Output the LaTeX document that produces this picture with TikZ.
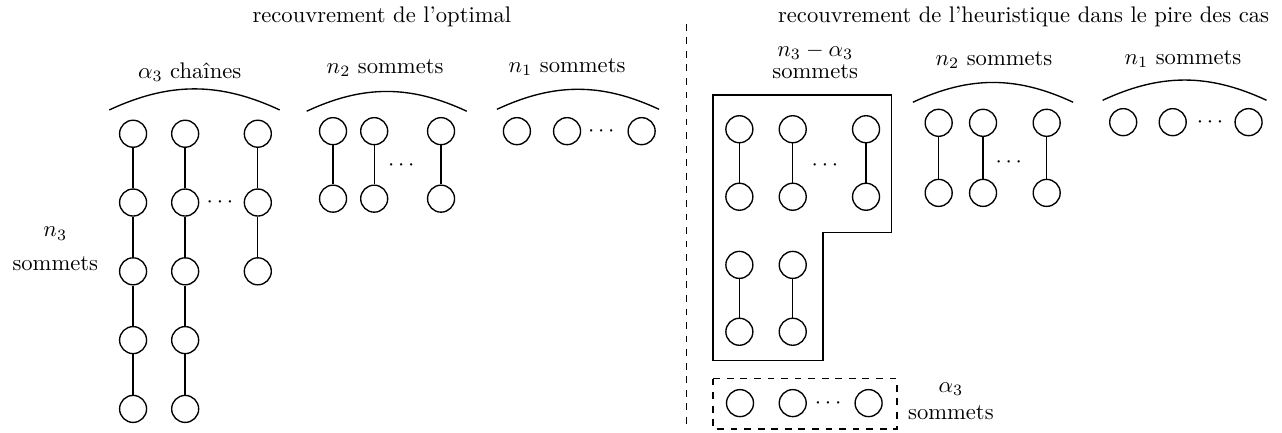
\documentclass[tikz,border=0pt]{standalone}
\usepackage{amsmath}
\usepackage{amssymb}
\usepackage{tikz}
\usepackage{xcolor}

\begin{document}
\begin{tikzpicture}[sommet/.style={circle, draw, semithick, minimum size=0.42cm, inner sep=0pt},
                    trait/.style={semithick}]
                \useasboundingbox (0,0) rectangle (19.94,-6.72);
                % Titles and separation
                \node (titreopt) at (5.94,-0.26) {recouvrement de l'optimal};
                \node (titreheur) at (15.92,-0.26) {recouvrement de l'heuristique dans le pire des cas};
                \coordinate (sephaut) at (10.68,-0.37);
                \coordinate (sepbas) at (10.68,-6.61);
                \draw[trait, dashed] (sephaut) -- (sepbas);

                % Optimal: alpha_3 chains
                \node[align=center] (n3lab) at (0.86,-3.87) {$n_3$\\[3pt] sommets};
                \node (chlab) at (2.95,-1.12) {$\alpha_3$ chaînes};
                \coordinate (chg) at (1.70,-1.71);
                \coordinate (chd) at (4.35,-1.71);
                \draw[trait] (chg) to[bend left=25] (chd);
                \foreach \c/\x/\k in {1/2.07/5, 2/2.88/5, 3/4.01/3} {
                    \foreach \r in {1,...,\k}
                        \node[sommet] (ch\c-\r) at (\x,-1.01-1.07*\r) {};
                    \foreach \r [evaluate=\r as \p using int(\r-1)] in {2,...,\k}
                        \draw[trait] (ch\c-\p) -- (ch\c-\r);
                }
                \node (chpts) at (3.45,-3.15) {$\cdots$};

                % Optimal: n_2 vertices
                \node (palab) at (5.99,-1.06) {$n_2$ sommets};
                \coordinate (pag) at (4.77,-1.73);
                \coordinate (pad) at (7.26,-1.73);
                \draw[trait] (pag) to[bend left=25] (pad);
                \foreach \c/\x in {1/5.18, 2/5.82, 3/6.86} {
                    \node[sommet] (pa\c-1) at (\x,-2.04) {};
                    \node[sommet] (pa\c-2) at (\x,-3.09) {};
                    \draw[trait] (pa\c-1) -- (pa\c-2);
                }
                \node (papts) at (6.27,-2.57) {$\cdots$};

                % Optimal: n_1 vertices
                \node (islab) at (8.82,-1.04) {$n_1$ sommets};
                \coordinate (isg) at (7.73,-1.70);
                \coordinate (isd) at (10.25,-1.70);
                \draw[trait] (isg) to[bend left=25] (isd);
                \node[sommet] (is1) at (8.04,-2.04) {};
                \node[sommet] (is2) at (8.82,-2.04) {};
                \node[sommet] (is3) at (9.98,-2.04) {};
                \node (ispts) at (9.38,-2.04) {$\cdots$};

                % Heuristic: n_3 - alpha_3 vertices
                \node[align=center] (hblab) at (12.68,-0.95) {$n_3-\alpha_3$\\[-2pt] sommets};
                \draw[trait] (11.09,-1.48) -- (13.87,-1.48) -- (13.87,-3.62) -- (12.80,-3.62)
                    -- (12.80,-5.61) -- (11.09,-5.61) -- cycle;
                \foreach \c/\x in {1/11.50, 2/12.33, 3/13.47} {
                    \node[sommet] (hb\c-1) at (\x,-2.01) {};
                    \node[sommet] (hb\c-2) at (\x,-3.06) {};
                    \draw[trait] (hb\c-1) -- (hb\c-2);
                }
                \node (hbpts) at (12.86,-2.57) {$\cdots$};
                \foreach \c/\x in {4/11.50, 5/12.33} {
                    \node[sommet] (hb\c-1) at (\x,-4.12) {};
                    \node[sommet] (hb\c-2) at (\x,-5.16) {};
                    \draw[trait] (hb\c-1) -- (hb\c-2);
                }

                % Heuristic: alpha_3 vertices
                \draw[trait, dashed] (11.09,-5.89) rectangle (13.95,-6.67);
                \node[sommet] (ha1) at (11.51,-6.27) {};
                \node[sommet] (ha2) at (12.33,-6.27) {};
                \node[sommet] (ha3) at (13.51,-6.27) {};
                \node (hapts) at (12.91,-6.27) {$\cdots$};
                \node[align=center] (halab) at (14.79,-6.24) {$\alpha_3$\\ sommets};

                % Heuristic: n_2 vertices
                \node (hplab) at (15.46,-0.93) {$n_2$ sommets};
                \coordinate (hpg) at (14.20,-1.59);
                \coordinate (hpd) at (16.69,-1.59);
                \draw[trait] (hpg) to[bend left=25] (hpd);
                \foreach \c/\x in {1/14.60, 2/15.29, 3/16.28} {
                    \node[sommet] (hp\c-1) at (\x,-1.91) {};
                    \node[sommet] (hp\c-2) at (\x,-3.00) {};
                    \draw[trait] (hp\c-1) -- (hp\c-2);
                }
                \node (hppts) at (15.72,-2.53) {$\cdots$};

                % Heuristic: n_1 vertices
                \node (hilab) at (18.40,-0.92) {$n_1$ sommets};
                \coordinate (hig) at (17.15,-1.56);
                \coordinate (hid) at (19.70,-1.56);
                \draw[trait] (hig) to[bend left=25] (hid);
                \node[sommet] (hi1) at (17.47,-1.90) {};
                \node[sommet] (hi2) at (18.24,-1.90) {};
                \node[sommet] (hi3) at (19.42,-1.90) {};
                \node (hipts) at (18.85,-1.90) {$\cdots$};
            \end{tikzpicture}
\end{document}
